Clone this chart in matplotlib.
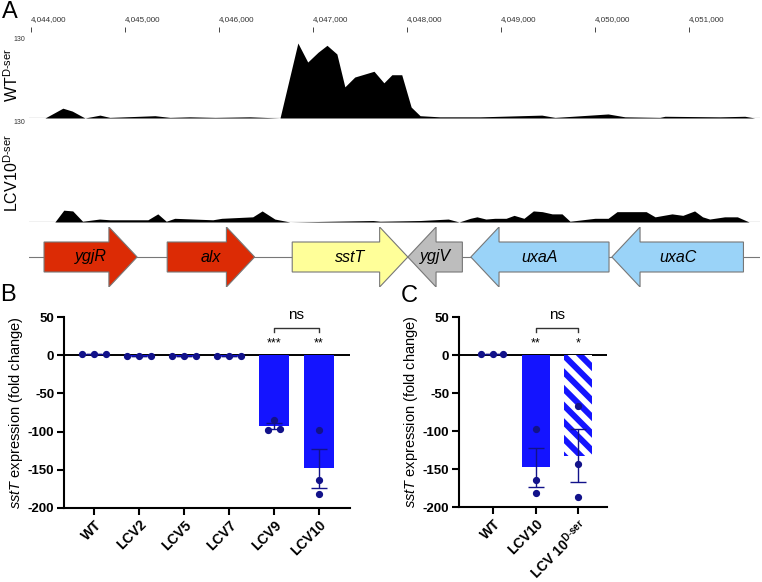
import numpy as np
import matplotlib
matplotlib.use('Agg')
import matplotlib.pyplot as plt

plt.rcParams['font.family'] = ['Liberation Sans', 'DejaVu Sans']
plt.rcParams['mathtext.fontset'] = 'custom'
plt.rcParams['mathtext.rm'] = 'Liberation Sans'
plt.rcParams['mathtext.it'] = 'Liberation Sans:italic'
plt.rcParams['mathtext.bf'] = 'Liberation Sans:bold'
plt.rcParams['hatch.linewidth'] = 4.2

W, H = 762, 582

# ---- panel A data ----
x_range = (4043980, 4051756)
coord_ticks = [4044000, 4045000, 4046000, 4047000, 4048000, 4049000, 4050000, 4051000]

wt_pos = [4043980, 4044150, 4044340, 4044440, 4044575, 4044735, 4044840, 4045320, 4045480,
          4045690, 4045960, 4046330, 4046490, 4046650, 4046840, 4046945, 4047055, 4047150,
          4047255, 4047340, 4047445, 4047650, 4047755, 4047840, 4047945, 4048045, 4048140,
          4048350, 4048780, 4049435, 4049575, 4050140, 4050320, 4050690, 4050745, 4051330,
          4051595, 4051700, 4051756]
wt_cov = [0, 0, 17, 12, 0, 5, 1, 4, 1,
          2, 1, 2, 1, 0, 130, 97, 114, 126,
          111, 54, 71, 81, 61, 75, 75, 19, 4,
          2, 2, 5, 1, 7, 2, 1, 3, 2,
          3, 0, 0]

lcv_pos = [4043980, 4044255, 4044350, 4044445, 4044550, 4044730, 4044840, 4045245, 4045350,
           4045440, 4045530, 4045935, 4046030, 4046360, 4046460, 4046595, 4046755, 4047640,
           4047715, 4048140, 4048440, 4048555, 4048675, 4048745, 4048840, 4048935, 4049055,
           4049140, 4049245, 4049345, 4049440, 4049545, 4049650, 4049735, 4050000, 4050140,
           4050235, 4050545, 4050640, 4050820, 4050935, 4051060, 4051145, 4051220, 4051380,
           4051515, 4051640, 4051756]
lcv_cov = [0, 0, 16, 15, 1, 4, 3, 3, 11,
           1, 5, 3, 5, 7, 15, 4, 0, 2,
           1, 2, 4, 0, 5, 7, 4, 5, 5,
           9, 5, 15, 14, 11, 11, 1, 5, 5,
           14, 14, 7, 11, 9, 15, 7, 4, 7,
           7, 0, 0]

gene_names = ['ygjR', 'alx', 'sstT', 'ygjV', 'uxaA', 'uxaC']
gene_start = [4044140, 4045450, 4046780, 4048010, 4048680, 4050180]
gene_end = [4045130, 4046380, 4048010, 4048590, 4050150, 4051580]
gene_strand = [1, 1, 1, -1, -1, -1]
gene_colors = ['#dc2b05', '#dc2b05', '#ffff99', '#bdbdbd', '#9ad3f8', '#9ad3f8']

# ---- panel B data ----
b_labels = ['WT', 'LCV2', 'LCV5', 'LCV7', 'LCV9', 'LCV10']
b_points = [[1, 1, 1], [-1, -1, -1], [-1, -1, -1], [-1, -1, -1],
            [-98, -85, -96], [-98, -164, -182]]
b_stars = ['', '', '', '', '***', '**']

# ---- panel C data ----
c_labels = ['WT', 'LCV10', r'LCV 10$^{\mathbf{D}\text{-}\mathbf{ser}}$']
c_points = [[1, 1, 1], [-98, -164, -182], [-67, -143, -187]]
c_stars = ['', '**', '*']

bar_blue = '#1414ff'
dot_navy = '#12128a'


def px_axes(x0, y0, x1, y1):
    return fig.add_axes([x0 / W, 1 - y1 / H, (x1 - x0) / W, (y1 - y0) / H])


fig = plt.figure(figsize=(W / 100, H / 100), dpi=100)

# coordinate ruler
ax_r = px_axes(29, 32, 760, 40)
ax_r.set_xlim(*x_range)
ax_r.set_ylim(0, 1)
for s in ax_r.spines.values():
    s.set_visible(False)
ax_r.set_yticks([])
ax_r.set_xticks(coord_ticks)
ax_r.set_xticklabels([f'{t:,}' for t in coord_ticks], ha='left')
ax_r.tick_params(axis='x', top=True, labeltop=True, bottom=False, labelbottom=False,
                 length=3.6, width=0.7, color='#444444', labelsize=5.8, labelcolor='#333333',
                 pad=2.5)
ax_r.patch.set_alpha(0)

# coverage tracks
for (y0, y1, pos, cov, lab, ly) in [(43, 118, wt_pos, wt_cov,
                                     r'WT$^{\mathrm{D}\text{-}\mathrm{ser}}$', 75),
                                    (126, 222, lcv_pos, lcv_cov,
                                     r'LCV10$^{\mathrm{D}\text{-}\mathrm{ser}}$', 173)]:
    ax = px_axes(29, y0, 760, y1)
    ax.fill_between(pos, 0, cov, color='black', lw=0)
    ax.axhline(0, color='black', lw=0.8)
    ax.set_xlim(*x_range)
    ax.set_ylim(0, 130)
    ax.axis('off')
    ax.text(-0.005, 1.0, '130', transform=ax.transAxes, fontsize=5, color='#333333',
            ha='right', va='bottom')
    fig.text(12 / W, 1 - ly / H, lab, fontsize=11.5, rotation=90, ha='center', va='center')

# gene track
ax_g = px_axes(29, 227, 760, 287)
ax_g.set_xlim(*x_range)
ax_g.set_ylim(-1, 1)
ax_g.axis('off')
ax_g.axhline(0, color='#777777', lw=0.8, zorder=0)
head = 300
for name, s, e, st, col in zip(gene_names, gene_start, gene_end, gene_strand, gene_colors):
    if st == 1:
        xs = [s, e - head, e - head, e, e - head, e - head, s]
    else:
        xs = [e, s + head, s + head, s, s + head, s + head, e]
    ys = [0.5, 0.5, 1, 0, -1, -0.5, -0.5]
    ax_g.fill(xs, ys, facecolor=col, edgecolor='#777777', lw=0.8, zorder=2)
    ax_g.text((s + e) / 2, 0, name, style='italic', fontsize=11.5, ha='center',
              va='center', zorder=3)

fig.text(2 / W, 1 - 12 / H, 'A', fontsize=17, va='center', ha='left')
fig.text(0 / W, 1 - 295 / H, 'B', fontsize=17, va='center', ha='left')
fig.text(401 / W, 1 - 296 / H, 'C', fontsize=17, va='center', ha='left')


def bar_panel(ax, labels, points, stars, offsets, width, hatched_idx, bracket):
    x = np.arange(len(labels))
    for i, pts in enumerate(points):
        m = np.mean(pts)
        sem = np.std(pts, ddof=1) / np.sqrt(len(pts))
        if i == hatched_idx:
            ax.bar(x[i], m, width, facecolor=bar_blue, edgecolor='white', hatch='\\\\', lw=0,
                   zorder=2)
        else:
            ax.bar(x[i], m, width, color=bar_blue, lw=0, zorder=2)
        ax.errorbar(x[i], m, yerr=sem, color=dot_navy, capsize=6, lw=1, capthick=1, zorder=3)
        off = offsets[i] if i < len(offsets) else [0, 0, 0]
        ax.plot(x[i] + np.array(off), pts, 'o', color=dot_navy, ms=4.2, zorder=4, clip_on=False)
        if stars[i]:
            ax.text(x[i], 15, stars[i], ha='center', va='center', fontsize=9)
    ax.axhline(0, color='black', lw=1.4, zorder=1)
    a, b = bracket
    ax.plot([a, a, b, b], [30, 35, 35, 30], color='#333333', lw=1, clip_on=False)
    ax.text((a + b) / 2, 52, 'ns', ha='center', va='center', fontsize=11)
    ax.set_ylim(-200, 50)
    ax.set_yticks([50, 0, -50, -100, -150, -200])
    ax.set_yticklabels(['50', '0', '-50', '-100', '-150', '-200'], fontweight='bold', fontsize=9.5)
    ax.set_xticks(x)
    ax.set_xticklabels(labels, rotation=45, ha='right', rotation_mode='anchor',
                       fontweight='bold', fontsize=10)
    ax.spines[['top', 'right']].set_visible(False)
    for s in ['left', 'bottom']:
        ax.spines[s].set_linewidth(1.5)
    ax.tick_params(width=1.5, length=5, pad=2)
    ax.set_ylabel(r'$\mathit{sstT}$ expression (fold change)', fontsize=10.5, labelpad=2)


ax_b = px_axes(64, 317, 350, 508)
ax_b.set_xlim(-0.667, 5.69)
bar_panel(ax_b, b_labels, b_points, b_stars,
          [[-0.27, 0, 0.27]] * 4 + [[-0.13, 0, 0.13], [0, 0, 0]], 0.66, None, (4, 5))

ax_c = px_axes(459, 317, 607, 507)
ax_c.set_xlim(-0.8, 2.68)
bar_panel(ax_c, c_labels, c_points, c_stars,
          [[-0.28, 0, 0.24], [0, 0, 0], [0, 0, 0]], 0.66, 2, (1, 2))

fig.savefig('out.png', dpi=100)
